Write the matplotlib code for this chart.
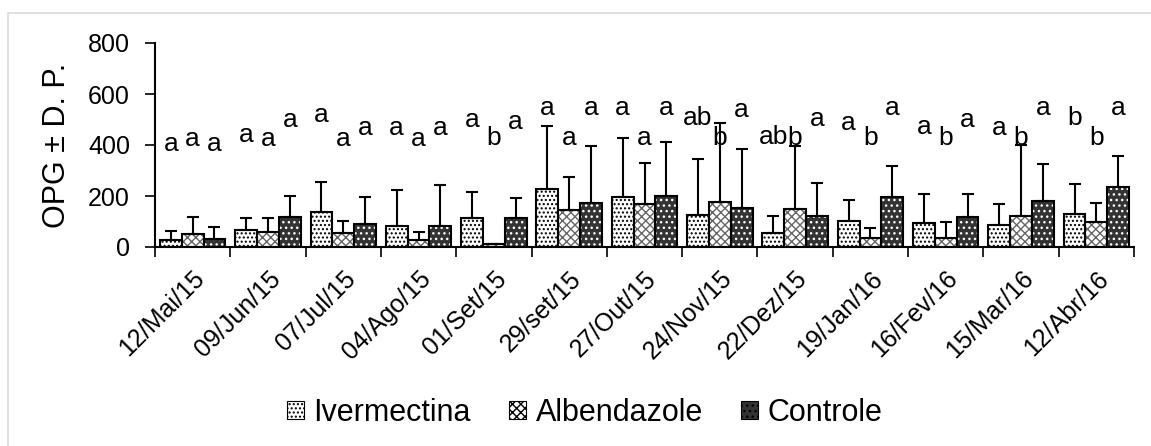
import matplotlib
matplotlib.use("Agg")
import matplotlib.pyplot as plt
import numpy as np
from matplotlib.patches import Rectangle, Patch

plt.rcParams['font.family'] = ['Liberation Sans', 'DejaVu Sans']
plt.rcParams['hatch.linewidth'] = 1.0

categories = ["12/Mai/15", "09/Jun/15", "07/Jul/15", "04/Ago/15", "01/Set/15", "29/set/15",
              "27/Out/15", "24/Nov/15", "22/Dez/15", "19/Jan/16", "16/Fev/16", "15/Mar/16", "12/Abr/16"]
series_names = ["Ivermectina", "Albendazole", "Controle"]

iver_mean = [27, 67, 138, 84, 115, 227, 197, 125, 54, 103, 93, 86, 129]
iver_sd   = [36, 47, 118, 140, 102, 247, 232, 219, 69, 81, 114, 81, 117]
albe_mean = [51, 60, 56, 27, 10, 145, 169, 178, 149, 34, 37, 122, 99]
albe_sd   = [68, 54, 46, 33, 0, 128, 159, 307, 247, 42, 62, 278, 72]
ctrl_mean = [31, 118, 90, 84, 112, 171, 201, 154, 123, 195, 119, 182, 237]
ctrl_sd   = [49, 83, 107, 159, 81, 226, 212, 229, 127, 124, 88, 142, 120]

iver_letters = ["a", "a", "a", "a", "a", "a", "a", "ab", "ab", "a", "a", "a", "b"]
albe_letters = ["a", "a", "a", "a", "b", "a", "a", "b", "b", "b", "b", "b", "b"]
ctrl_letters = ["a"] * 13
iver_letter_y = [378, 410, 490, 438, 469, 518, 518, 478, 404, 458, 444, 441, 479]
albe_letter_y = [398, 398, 398, 398, 400, 401, 401, 400, 400, 400, 400, 400, 400]
ctrl_letter_y = [378, 469, 438, 438, 462, 518, 518, 508, 476, 518, 472, 518, 518]

means = [iver_mean, albe_mean, ctrl_mean]
sds = [iver_sd, albe_sd, ctrl_sd]
letters = [iver_letters, albe_letters, ctrl_letters]
letter_ys = [iver_letter_y, albe_letter_y, ctrl_letter_y]

styles = [
    dict(face="white", hatch="....", hcolor="black"),
    dict(face="white", hatch="xxxx", hcolor="#666666"),
    dict(face="#333333", hatch="...", hcolor="white"),
]

fig = plt.figure(figsize=(11.51, 4.46), dpi=100)
W, H = 1151, 446
fig.patches.append(Rectangle((8 / W, -0.01), 1.1, (H - 13) / H + 0.01, transform=fig.transFigure,
                             fill=False, edgecolor="#d9d9d9", linewidth=1.2))
ax = fig.add_axes([155 / W, 1 - 247 / H, 979 / W, 204 / H])

n = len(categories)
x = np.arange(n)
w = 0.29
offsets = [-w, 0, w]

for i in range(3):
    st = styles[i]
    xs = x + offsets[i]
    ax.bar(xs, means[i], width=w, color=st["face"], edgecolor=st["hcolor"],
           hatch=st["hatch"], linewidth=0, zorder=2)
    ax.bar(xs, means[i], width=w, fill=False, edgecolor="black", linewidth=1.5, zorder=3)
    ax.errorbar(xs, means[i], yerr=[np.zeros(n), sds[i]], fmt="none", ecolor="black",
                elinewidth=1.5, capsize=4.5, capthick=1.5, zorder=4)
    for j in range(n):
        ax.text(xs[j], letter_ys[i][j], letters[i][j], ha="center", va="baseline",
                fontsize=19, zorder=5)

ax.set_xlim(-0.5, n - 0.5)
ax.set_ylim(0, 800)
ax.set_yticks([0, 200, 400, 600, 800])
ax.tick_params(axis="y", labelsize=18, length=7, width=1.2, direction="out", pad=11)
ax.set_xticks(np.arange(n + 1) - 0.5)
ax.set_xticklabels([])
ax.tick_params(axis="x", length=7, width=1.2, direction="out")
ax.set_xticks(x, minor=True)
ax.set_xticklabels(categories, minor=True, rotation=45, ha="right",
                   rotation_mode="anchor", fontsize=18)
ax.tick_params(axis="x", which="minor", length=0, pad=14)
for s in ["top", "right"]:
    ax.spines[s].set_visible(False)
for s in ["left", "bottom"]:
    ax.spines[s].set_linewidth(1.5)
ax.set_ylabel("OPG ± D. P.", fontsize=22)
ax.yaxis.set_label_coords(-0.0848, 0.5)

handles = [Patch(facecolor=st["face"], edgecolor=st["hcolor"], hatch=st["hatch"], linewidth=0)
           for st in styles]
leg = fig.legend(handles, series_names, loc="center", bbox_to_anchor=(0.508, 0.074), ncol=3,
                 frameon=False, fontsize=22, handlelength=0.56, handleheight=0.56,
                 handletextpad=0.3, columnspacing=1.25, borderpad=0, borderaxespad=0)
for h in leg.legend_handles:
    h.set_edgecolor("black")
    h.set_linewidth(0.8)

fig.savefig("out.png", dpi=100)
